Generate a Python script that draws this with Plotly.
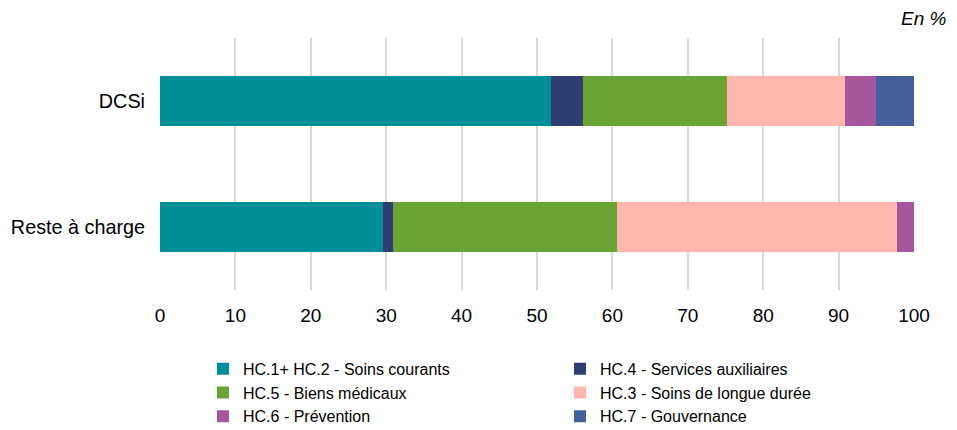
import plotly.graph_objects as go

# Health expenditure structure by function (share, %)
categories = ["Reste à charge", "DCSi"]

series_names = [
    "HC.1+ HC.2 - Soins courants",
    "HC.4 - Services auxiliaires",
    "HC.5 - Biens médicaux",
    "HC.3 - Soins de longue durée",
    "HC.6 - Prévention",
    "HC.7 - Gouvernance",
]

# values listed as [Reste à charge, DCSi]
hc12_soins_courants = [29.6, 51.8]
hc4_services_aux = [1.3, 4.3]
hc5_biens_medicaux = [29.7, 19.1]
hc3_longue_duree = [37.2, 15.7]
hc6_prevention = [2.2, 4.0]
hc7_gouvernance = [0.0, 5.1]

series_values = [
    hc12_soins_courants,
    hc4_services_aux,
    hc5_biens_medicaux,
    hc3_longue_duree,
    hc6_prevention,
    hc7_gouvernance,
]

colors = ["#008F96", "#2F3E72", "#6AA434", "#FFB6AE", "#A5579E", "#44609A"]

x_ticks = [0, 10, 20, 30, 40, 50, 60, 70, 80, 90, 100]

FONT = "Arial, 'Liberation Sans', sans-serif"

fig = go.Figure()
for name, vals, col in zip(series_names, series_values, colors):
    fig.add_trace(
        go.Bar(
            y=categories,
            x=vals,
            name=name,
            orientation="h",
            marker=dict(color=col, line=dict(width=0)),
            width=0.4,
            hoverinfo="x+name",
        )
    )

fig.update_layout(
    barmode="stack",
    width=957,
    height=430,
    margin=dict(l=160, r=43, t=38, b=140, autoexpand=False),
    paper_bgcolor="white",
    plot_bgcolor="white",
    font=dict(family=FONT, size=19, color="#000000"),
    xaxis=dict(
        range=[0, 100],
        tickvals=x_ticks,
        ticktext=[str(v) for v in x_ticks],
        showgrid=True,
        gridcolor="#D9D9D9",
        gridwidth=1.5,
        zeroline=False,
        showline=False,
        ticks="",
        ticklabelstandoff=12,
        tickfont=dict(size=19),
        fixedrange=True,
    ),
    yaxis=dict(
        categoryorder="array",
        categoryarray=categories,
        showgrid=False,
        zeroline=False,
        showline=False,
        ticks="",
        ticklabelstandoff=14,
        tickfont=dict(size=19.8),
        fixedrange=True,
    ),
    legend=dict(
        orientation="h",
        x=0.057,
        xanchor="left",
        y=-0.245,
        yanchor="top",
        entrywidth=312,
        entrywidthmode="pixels",
        font=dict(size=16, family=FONT),
        itemwidth=30,
        traceorder="normal",
        tracegroupgap=0,
        bgcolor="rgba(0,0,0,0)",
    ),
    annotations=[
        dict(
            text="<i>En %</i>",
            xref="paper",
            yref="paper",
            x=1.047,
            y=1.0,
            xanchor="right",
            yanchor="bottom",
            yshift=7,
            showarrow=False,
            font=dict(size=19, family=FONT),
        )
    ],
    showlegend=True,
)

fig.write_html("out.html")
